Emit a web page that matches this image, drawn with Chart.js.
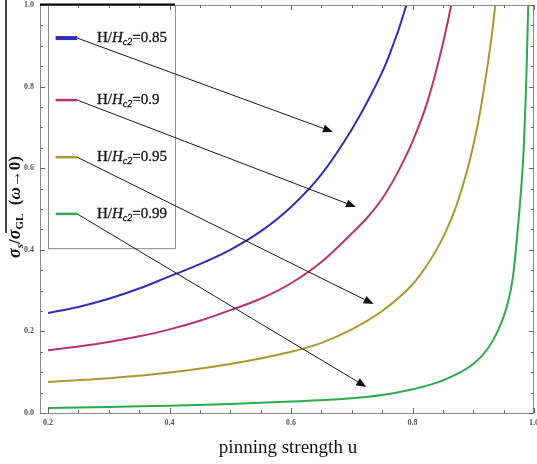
<!DOCTYPE html>
<html>
<head>
<meta charset="utf-8">
<script src="https://cdn.jsdelivr.net/npm/chart.js@4/dist/chart.umd.min.js"></script>
<style>
    html, body { margin: 0; padding: 0; background: #fff; }
    #wrap { width: 537px; height: 464px; position: relative; }
</style>
</head>
<body>
<div id="wrap"><canvas id="chart"></canvas></div>
<script>
// pinning strength u and sigma_s / sigma_GL for each H/Hc2
const u085 = [0.2, 0.25, 0.3, 0.35, 0.4, 0.45, 0.5, 0.55, 0.6, 0.65, 0.7, 0.73, 0.76, 0.79, 0.8];
const s085 = [0.245, 0.26, 0.28, 0.305, 0.335, 0.365, 0.40, 0.445, 0.505, 0.585, 0.695, 0.775, 0.87, 1.0, 1.06];

const u090 = [0.2, 0.25, 0.3, 0.35, 0.4, 0.45, 0.5, 0.55, 0.6, 0.65, 0.7, 0.725, 0.75, 0.775, 0.8, 0.825, 0.85, 0.875];
const s090 = [0.154, 0.163, 0.174, 0.188, 0.205, 0.226, 0.252, 0.28, 0.318, 0.37, 0.44, 0.478, 0.525, 0.588, 0.665, 0.765, 0.905, 1.08];

const u095 = [0.2, 0.3, 0.4, 0.5, 0.6, 0.65, 0.7, 0.75, 0.8, 0.825, 0.85, 0.875, 0.9, 0.915, 0.93, 0.94];
const s095 = [0.076, 0.085, 0.099, 0.12, 0.15, 0.172, 0.205, 0.25, 0.315, 0.365, 0.43, 0.52, 0.655, 0.77, 0.92, 1.05];

const u099 = [0.2, 0.3, 0.4, 0.5, 0.6, 0.7, 0.75, 0.8, 0.85, 0.9, 0.925, 0.94, 0.955, 0.965, 0.975, 0.983, 0.987, 0.99, 0.992];
const s099 = [0.012, 0.015, 0.018, 0.022, 0.028, 0.036, 0.044, 0.058, 0.08, 0.12, 0.16, 0.2, 0.26, 0.33, 0.48, 0.645, 0.8, 0.97, 1.08];

const seriesLabels = ['0.85', '0.9', '0.95', '0.99'];
const seriesColors = ['#2f2fb4', '#b8336f', '#ad9730', '#2ea84c'];

const xTicks = [0.2, 0.4, 0.6, 0.8, 1.0];
const yTicks = [0.0, 0.2, 0.4, 0.6, 0.8, 1.0];
const minorStep = 0.05;

// arrows from legend entries to curves (data coords)
const arrowFromU = [0.248, 0.248, 0.248, 0.248];
const arrowFromS = [0.919, 0.767, 0.627, 0.488];
const arrowToU = [0.669, 0.707, 0.736, 0.724];
const arrowToS = [0.689, 0.505, 0.267, 0.064];

const toPoints = (us, ss) => us.map((u, i) => ({ x: u, y: ss[i] }));
const allU = [u085, u090, u095, u099];
const allS = [s085, s090, s095, s099];

const datasets = seriesLabels.map((lab, i) => ({
    label: 'H/Hc2=' + lab,
    data: toPoints(allU[i], allS[i]),
    borderColor: seriesColors[i],
    borderWidth: 2,
    pointRadius: 0,
    cubicInterpolationMode: 'monotone',
    fill: false
}));

// draws a row of text pieces (normal / italic / subscript) starting at x
function drawRuns(ctx, runs, x, y, bolden) {
    let cx = x;
    runs.forEach(r => {
        ctx.font = r.font;
        ctx.fillText(r.text, cx, y + (r.dy || 0));
        if (bolden) ctx.strokeText(r.text, cx, y + (r.dy || 0));
        cx += ctx.measureText(r.text).width;
    });
    return cx;
}
function runsWidth(ctx, runs) {
    let w = 0;
    runs.forEach(r => { ctx.font = r.font; w += ctx.measureText(r.text).width; });
    return w;
}

const serif = '"Liberation Serif", "DejaVu Serif", serif';

const decor = {
    id: 'decor',
    afterDraw(chart) {
        const { ctx, chartArea: a, scales: { x, y } } = chart;
        ctx.save();

        // frame
        ctx.strokeStyle = '#8a8a8a';
        ctx.lineWidth = 1;
        ctx.strokeRect(a.left + 0.5, a.top + 0.5, a.right - a.left - 1, a.bottom - a.top);

        // inward ticks on all four sides
        const tick = (v, len, horiz) => {
            if (horiz) {
                const px = Math.round(x.getPixelForValue(v)) + 0.5;
                ctx.beginPath();
                ctx.moveTo(px, a.bottom); ctx.lineTo(px, a.bottom - len);
                ctx.moveTo(px, a.top); ctx.lineTo(px, a.top + len);
                ctx.stroke();
            } else {
                const py = Math.round(y.getPixelForValue(v)) + 0.5;
                ctx.beginPath();
                ctx.moveTo(a.left, py); ctx.lineTo(a.left + len, py);
                ctx.moveTo(a.right, py); ctx.lineTo(a.right - len, py);
                ctx.stroke();
            }
        };
        ctx.strokeStyle = '#666';
        for (let v = 0.2; v <= 1.0001; v += minorStep) {
            const major = xTicks.some(t => Math.abs(t - v) < 1e-6);
            tick(v, major ? 5 : 3, true);
        }
        for (let v = 0; v <= 1.0001; v += minorStep) {
            const major = yTicks.some(t => Math.abs(t - v) < 1e-6);
            tick(v, major ? 5 : 3, false);
        }

        // legend box
        const bx0 = x.getPixelForValue(0.2), bx1 = x.getPixelForValue(0.409);
        const by0 = a.top, by1 = y.getPixelForValue(0.404);
        ctx.strokeStyle = '#8a8a8a';
        ctx.strokeRect(Math.round(bx0) + 0.5, by0 + 0.5, bx1 - bx0, by1 - by0);

        // legend entries
        seriesLabels.forEach((lab, i) => {
            const py = y.getPixelForValue(arrowFromS[i]);
            ctx.strokeStyle = seriesColors[i];
            ctx.lineWidth = i === 0 ? 4 : 2.5;
            ctx.beginPath();
            ctx.moveTo(x.getPixelForValue(0.2125), py);
            ctx.lineTo(x.getPixelForValue(0.248), py);
            ctx.stroke();

            ctx.fillStyle = '#111';
            ctx.strokeStyle = '#111';
            ctx.lineWidth = 0.3;
            ctx.textBaseline = 'middle';
            ctx.textAlign = 'left';
            drawRuns(ctx, [
                { text: 'H/', font: '15px ' + serif },
                { text: 'H', font: 'italic 15px ' + serif },
                { text: 'c2', font: 'italic 10px ' + serif, dy: 4 },
                { text: '=' + lab, font: '15px ' + serif }
            ], x.getPixelForValue(0.2807), py, true);
        });

        // arrows
        ctx.strokeStyle = '#1a1a1a';
        ctx.fillStyle = '#111';
        ctx.lineWidth = 1;
        arrowFromU.forEach((u0, i) => {
            const x0 = x.getPixelForValue(u0), y0 = y.getPixelForValue(arrowFromS[i]);
            const x1 = x.getPixelForValue(arrowToU[i]), y1 = y.getPixelForValue(arrowToS[i]);
            const ang = Math.atan2(y1 - y0, x1 - x0);
            const hl = 10, hw = 4;
            const bx = x1 - hl * Math.cos(ang), byy = y1 - hl * Math.sin(ang);
            ctx.beginPath();
            ctx.moveTo(x0, y0); ctx.lineTo(bx, byy);
            ctx.stroke();
            ctx.beginPath();
            ctx.moveTo(x1, y1);
            ctx.lineTo(bx + hw * Math.sin(ang), byy - hw * Math.cos(ang));
            ctx.lineTo(bx - hw * Math.sin(ang), byy + hw * Math.cos(ang));
            ctx.closePath();
            ctx.fill();
        });

        // x title
        ctx.fillStyle = '#111';
        ctx.textAlign = 'center';
        ctx.textBaseline = 'alphabetic';
        ctx.font = '19px ' + serif;
        ctx.fillText('pinning strength u', 288, 453);

        // y title, rotated
        const yRuns = [
            { text: 'σ', font: 'bold italic 18px ' + serif },
            { text: 's', font: 'bold italic 11px ' + serif, dy: 3 },
            { text: '/', font: 'bold 17px ' + serif },
            { text: 'σ', font: 'bold italic 18px ' + serif },
            { text: 'GL', font: 'bold 11px ' + serif, dy: 3 },
            { text: '  (', font: 'bold 17px ' + serif },
            { text: 'ω', font: 'bold italic 17px ' + serif },
            { text: '→0)', font: 'bold 17px ' + serif }
        ];
        ctx.save();
        ctx.translate(20, 207);
        ctx.rotate(-Math.PI / 2);
        ctx.textAlign = 'left';
        drawRuns(ctx, yRuns, -runsWidth(ctx, yRuns) / 2, 0, false);
        ctx.restore();

        // scan artefacts: black edge lines
        ctx.strokeStyle = '#000';
        ctx.lineWidth = 2;
        ctx.beginPath();
        ctx.moveTo(a.left, a.top - 0.5); ctx.lineTo(bx1, a.top - 0.5);
        ctx.stroke();
        ctx.lineWidth = 1.5;
        ctx.beginPath();
        ctx.moveTo(6, 0); ctx.lineTo(6, 233);
        ctx.stroke();

        ctx.restore();
    }
};

const ctx = document.getElementById('chart').getContext('2d');
new Chart(ctx, {
    type: 'line',
    data: { datasets },
    options: {
        responsive: true,
        maintainAspectRatio: false,
        animation: false,
        layout: { padding: { top: 5, right: 3, left: 0, bottom: 0 } },
        plugins: { legend: { display: false }, tooltip: { enabled: false } },
        scales: {
            x: {
                type: 'linear',
                min: 0.1868,
                max: 1.0,
                afterBuildTicks: axis => { axis.ticks = xTicks.map(v => ({ value: v })); },
                afterFit: s => { s.height = 51; s.paddingLeft = 0; s.paddingRight = 0; },
                grid: { display: false, drawTicks: false },
                border: { display: false },
                ticks: {
                    font: { size: 8, family: serif, weight: 'bold' },
                    color: '#555',
                    padding: 5,
                    maxRotation: 0,
                    callback: v => v.toFixed(1)
                }
            },
            y: {
                type: 'linear',
                min: 0,
                max: 1.0,
                afterBuildTicks: axis => { axis.ticks = yTicks.map(v => ({ value: v })); },
                afterFit: s => { s.width = 40; s.paddingTop = 0; s.paddingBottom = 0; },
                grid: { display: false, drawTicks: false },
                border: { display: false },
                ticks: {
                    font: { size: 8, family: serif, weight: 'bold' },
                    color: '#555',
                    padding: 6,
                    callback: v => v.toFixed(1)
                }
            }
        }
    },
    plugins: [decor]
});
</script>
</body>
</html>
